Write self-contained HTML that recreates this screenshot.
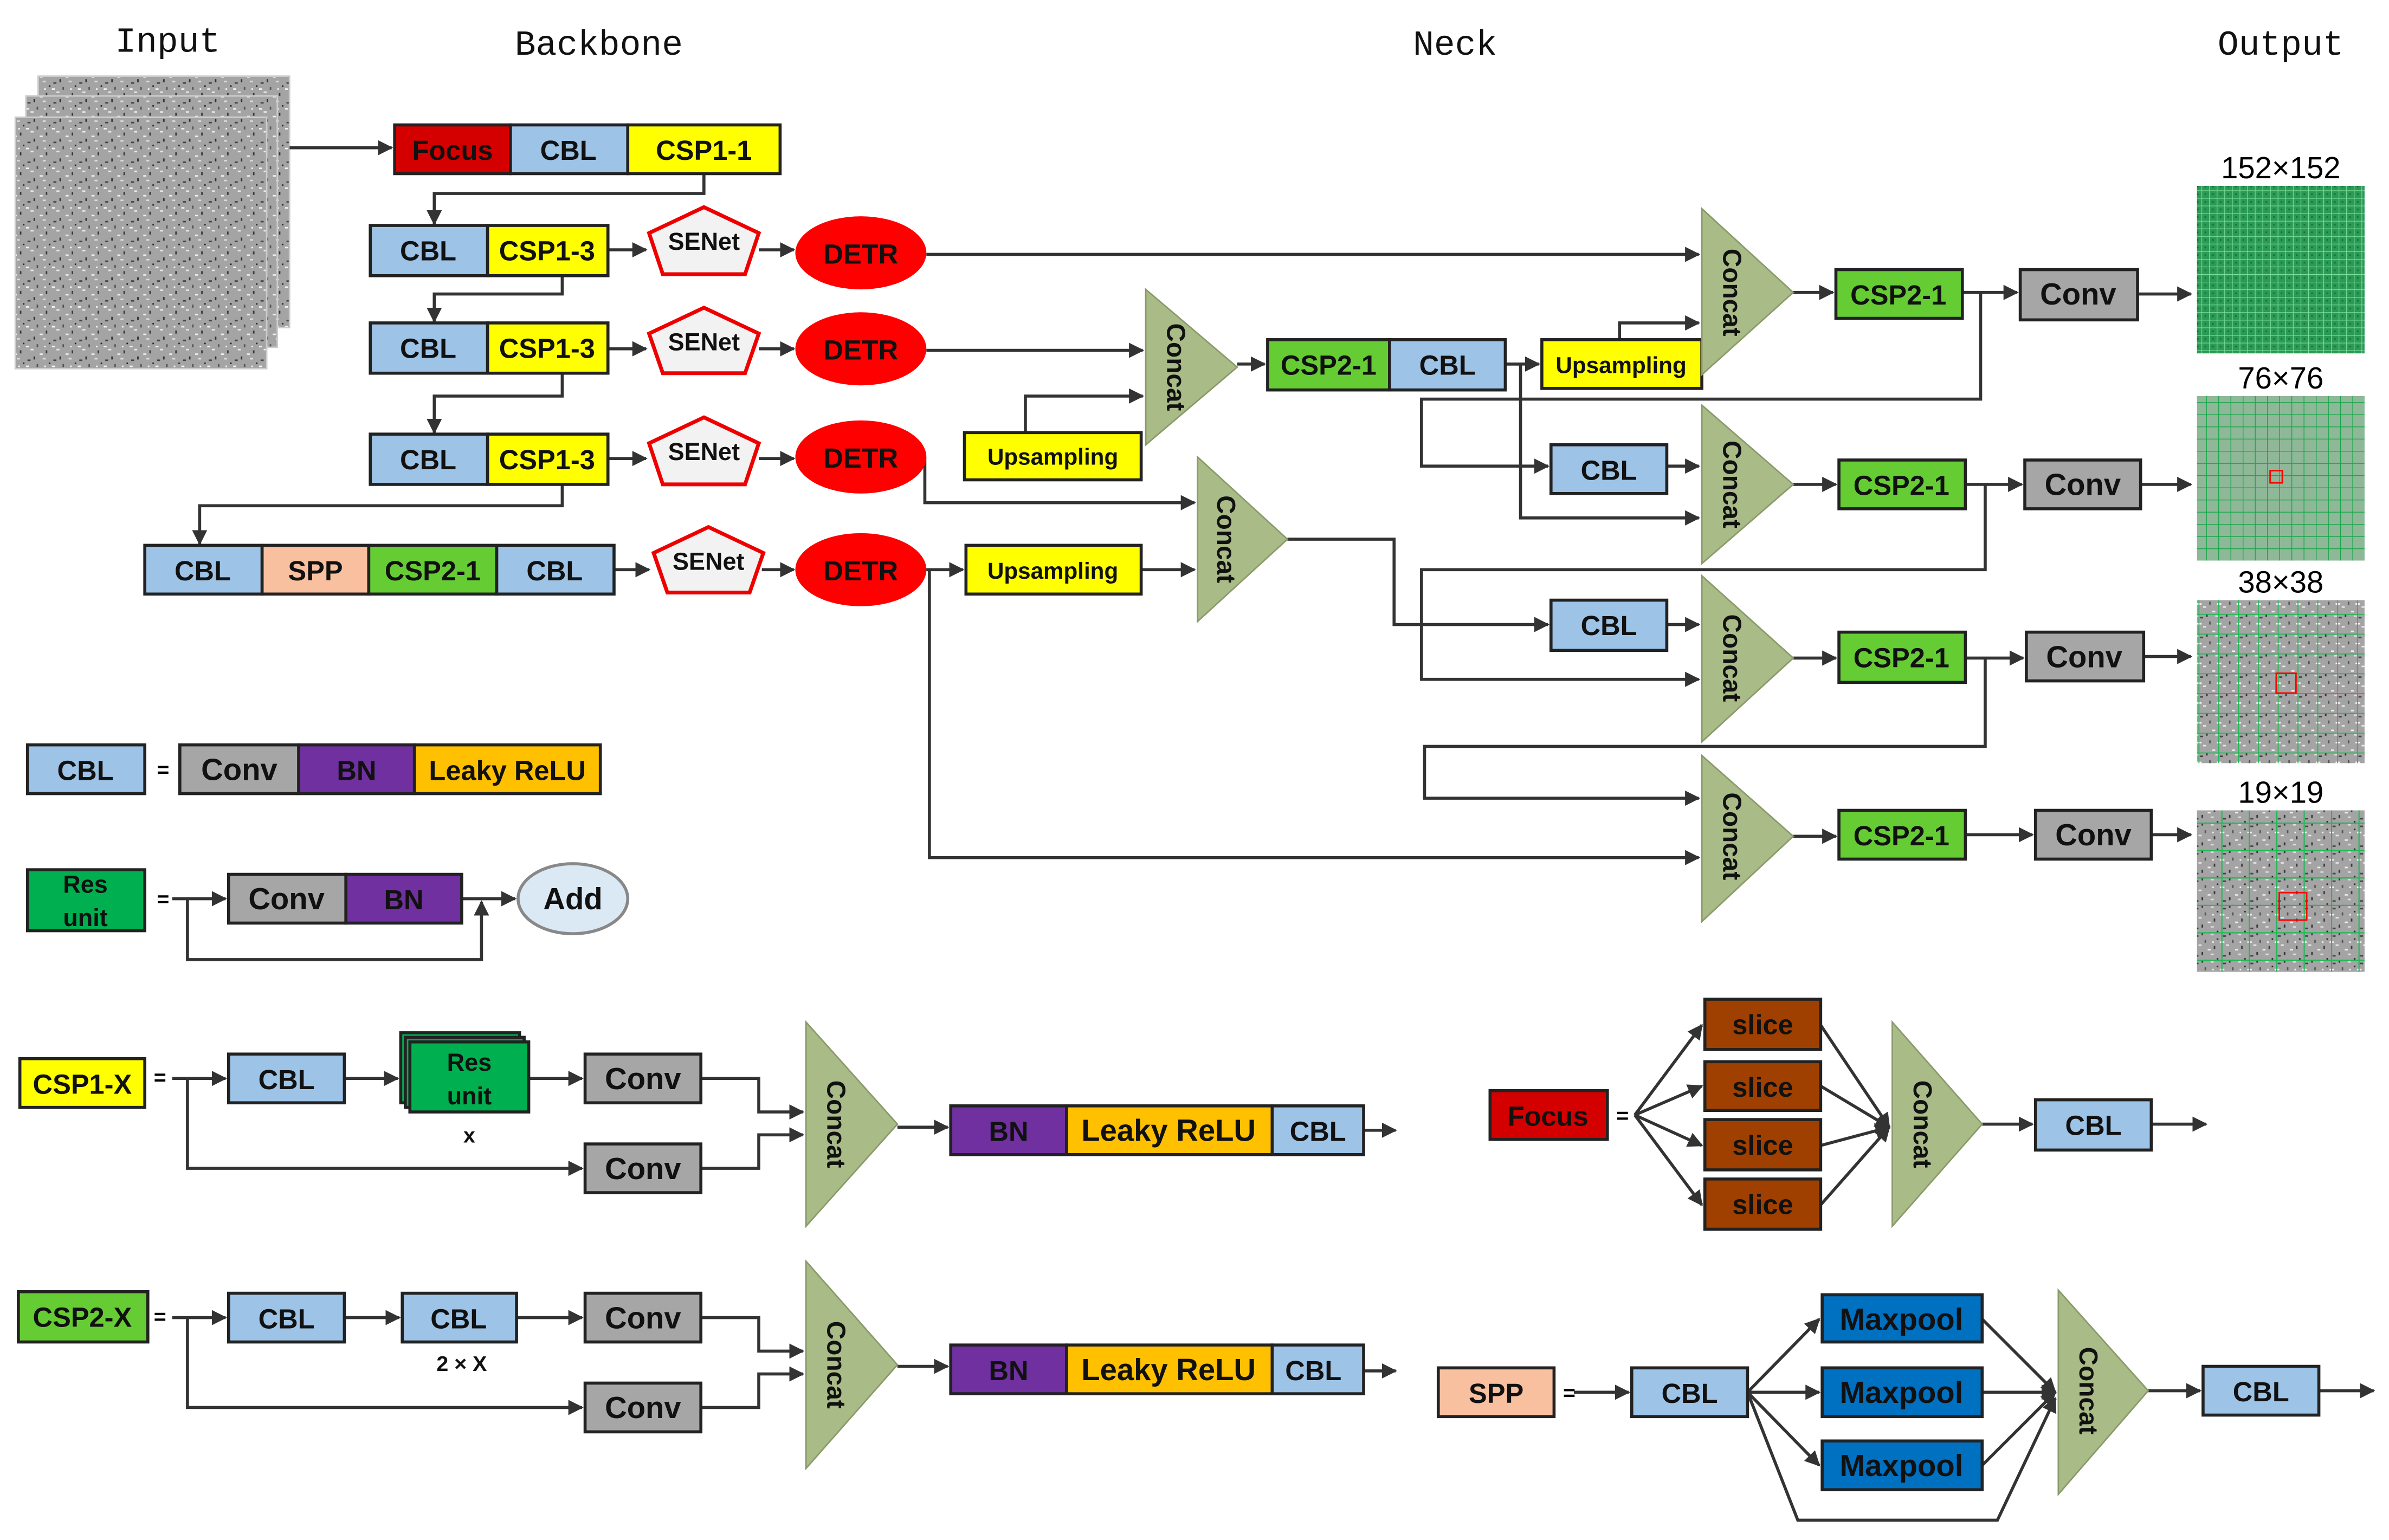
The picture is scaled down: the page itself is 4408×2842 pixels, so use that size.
<!DOCTYPE html>
<html><head><meta charset="utf-8"><style>
html,body{margin:0;padding:0;background:#fff;}
svg{display:block}
text{font-family:"Liberation Sans",sans-serif;font-weight:bold;}
</style></head><body>
<svg width="4408" height="2842" viewBox="0 0 1568 1011" xmlns="http://www.w3.org/2000/svg">
<defs>
<marker id="a" markerWidth="10" markerHeight="10" refX="9" refY="5" orient="auto" markerUnits="userSpaceOnUse"><path d="M0,0 L10,5 L0,10 z" fill="#333"/></marker>
<pattern id="noise" width="17" height="13" patternUnits="userSpaceOnUse">
<rect width="17" height="13" fill="#a4a4a4"/><rect x="1" y="2" width="2" height="1" fill="#444"/><rect x="7" y="5" width="1" height="2" fill="#555"/><rect x="3" y="8" width="2" height="1" fill="#e8e8e8"/><rect x="11" y="1" width="2" height="1" fill="#ddd"/><rect x="5" y="0" width="1" height="2" fill="#333"/><rect x="0" y="6" width="2" height="1" fill="#f4f4f4"/><rect x="13" y="9" width="1" height="2" fill="#3a3a3a"/><rect x="9" y="11" width="2" height="1" fill="#eee"/><rect x="15" y="4" width="1" height="1" fill="#222"/><rect x="12" y="6" width="1" height="1" fill="#fafafa"/></pattern>
<pattern id="g1" width="5" height="5" patternUnits="userSpaceOnUse"><rect width="5" height="5" fill="#2a9a55"/><path d="M0,0H5M0,0V5" stroke="#7fe0a0" stroke-width="0.8"/><rect x="2" y="2" width="1" height="1" fill="#1a6a3a"/></pattern>
<pattern id="g2" width="8" height="8" patternUnits="userSpaceOnUse"><rect width="8" height="8" fill="#8fb898"/><path d="M0,0H8M0,0V8" stroke="#17a84a" stroke-width="1"/></pattern>
<pattern id="g3" width="13" height="13" patternUnits="userSpaceOnUse"><rect width="13" height="13" fill="url(#noise)"/><path d="M0,0H13M0,0V13" stroke="#1db954" stroke-width="1.2"/></pattern>
<pattern id="g4" width="18" height="18" patternUnits="userSpaceOnUse"><rect width="18" height="18" fill="url(#noise)"/><path d="M0,0H18M0,0V18" stroke="#1db954" stroke-width="1.5"/></pattern>
</defs>
<g font-size="23" text-anchor="middle" fill="#111">
<text x="110" y="34" style="font-family:'Liberation Mono';font-weight:normal">Input</text>
<text x="393" y="36" style="font-family:'Liberation Mono';font-weight:normal">Backbone</text>
<text x="955" y="36" style="font-family:'Liberation Mono';font-weight:normal">Neck</text>
<text x="1497" y="36" style="font-family:'Liberation Mono';font-weight:normal">Output</text>
</g>
<rect x="25" y="50" width="165" height="165" fill="url(#noise)" stroke="#ccc"/>
<rect x="17" y="63" width="165" height="165" fill="url(#noise)" stroke="#ccc"/>
<rect x="10" y="77" width="165" height="165" fill="url(#noise)" stroke="#ccc"/>
<rect x="1442" y="122" width="110" height="110" fill="url(#g1)"/>
<rect x="1442" y="260" width="110" height="108" fill="url(#g2)"/><rect x="1490" y="309" width="8" height="8" fill="none" stroke="red"/>
<rect x="1442" y="394" width="110" height="107" fill="url(#g3)"/><rect x="1494" y="442" width="13" height="13" fill="none" stroke="red"/>
<rect x="1442" y="532" width="110" height="106" fill="url(#g4)"/><rect x="1496" y="586" width="18" height="18" fill="none" stroke="red"/>
<g font-size="20" text-anchor="middle">
<text x="1497" y="117" style="font-weight:normal">152×152</text>
<text x="1497" y="255" style="font-weight:normal">76×76</text>
<text x="1497" y="389" style="font-weight:normal">38×38</text>
<text x="1497" y="527" style="font-weight:normal">19×19</text>
</g>

<g stroke="#333" stroke-width="2" fill="none" marker-end="url(#a)">
<path d="M190,97H257"/>
<path d="M462,114V127H285V147"/>
<path d="M369,181V193H285V211"/>
<path d="M369,245V260H285V284"/>
<path d="M369,318V332H131V357"/>
<path d="M399,164H424"/><path d="M399,229H424"/><path d="M399,301H424"/><path d="M403,374H426"/>
<path d="M498,164H521"/><path d="M498,229H521"/><path d="M498,301H521"/><path d="M500,374H521"/>
<path d="M608,167H1115"/>
<path d="M608,230H750"/>
<path d="M673,284V260H750"/>
<path d="M607,300V330H784"/>
<path d="M608,374H632"/>
<path d="M749,374H784"/>
<path d="M608,374H610V563H1115"/>
<path d="M812,239H830"/>
<path d="M988,239H1010"/>
<path d="M1063,223V212H1115"/>
<path d="M988,239H998V340H1115"/>
<path d="M1300,192V262H933V306H1016"/>
<path d="M845,354H915V410H1016"/>
<path d="M1094,306H1115"/><path d="M1094,410H1115"/>
<path d="M1303,318V374H933V446H1115"/>
<path d="M1303,432V490H935V524H1115"/>
<path d="M1177,192H1203"/><path d="M1288,192H1324"/><path d="M1403,193H1438"/>
<path d="M1177,318H1205"/><path d="M1290,318H1327"/><path d="M1405,318H1438"/>
<path d="M1177,432H1205"/><path d="M1290,432H1328"/><path d="M1407,431H1438"/>
<path d="M1177,549H1205"/><path d="M1290,548H1334"/><path d="M1412,548H1438"/>
<path d="M113,590H148"/><path d="M303,590H338"/><path d="M123,590V630H316V592"/>
<path d="M113,708H148"/><path d="M226,708H261"/><path d="M347,708H382"/><path d="M123,708V767H382"/>
<path d="M460,708H498V730H527"/><path d="M460,767H498V745H527"/><path d="M589,740H622"/><path d="M895,742H916"/>
<path d="M113,865H148"/><path d="M226,865H262"/><path d="M339,865H382"/><path d="M123,865V924H382"/>
<path d="M460,865H498V887H527"/><path d="M460,924H498V902H527"/><path d="M589,897H622"/><path d="M895,900H916"/>
<path d="M1073,732L1117,673"/><path d="M1073,732L1117,713"/><path d="M1073,732L1117,752"/><path d="M1073,732L1117,791"/>
<path d="M1195,673L1240,740"/><path d="M1195,713L1240,740"/><path d="M1195,752L1240,740"/><path d="M1195,791L1240,740"/>
<path d="M1301,738H1334"/><path d="M1412,738H1448"/>
<path d="M1033,914H1069"/>
<path d="M1147,914L1194,866"/><path d="M1147,914H1194"/><path d="M1147,914L1194,962"/>
<path d="M1301,866L1349,914"/><path d="M1301,914H1349"/><path d="M1301,962L1349,914"/>
<path d="M1147,914L1180,998H1311L1349,918"/>
<path d="M1410,913H1444"/>
<path d="M1522,913H1558"/>
</g>
<g font-size="14" text-anchor="middle"><text x="107" y="510">=</text><text x="107" y="595">=</text><text x="105" y="712">=</text><text x="105" y="869">=</text><text x="1065" y="737">=</text><text x="1030" y="919">=</text></g>

<g stroke="#222" stroke-width="2" font-size="18" text-anchor="middle">
<rect x="259" y="82" width="76" height="32" fill="#d40000"/>
<rect x="335" y="82" width="77" height="32" fill="#9dc3e6"/>
<rect x="412" y="82" width="100" height="32" fill="#ffff00"/>
<rect x="243" y="148" width="77" height="33" fill="#9dc3e6"/><rect x="320" y="148" width="79" height="33" fill="#ffff00"/>
<rect x="243" y="212" width="77" height="33" fill="#9dc3e6"/><rect x="320" y="212" width="79" height="33" fill="#ffff00"/>
<rect x="243" y="285" width="77" height="33" fill="#9dc3e6"/><rect x="320" y="285" width="79" height="33" fill="#ffff00"/>
<rect x="95" y="358" width="77" height="32" fill="#9dc3e6"/><rect x="172" y="358" width="70" height="32" fill="#f9c09f"/>
<rect x="242" y="358" width="84" height="32" fill="#66cc33"/><rect x="326" y="358" width="77" height="32" fill="#9dc3e6"/>
<rect x="633" y="284" width="116" height="31" fill="#ffff00"/><rect x="634" y="358" width="115" height="32" fill="#ffff00"/>
<rect x="832" y="223" width="80" height="33" fill="#66cc33"/><rect x="912" y="223" width="76" height="33" fill="#9dc3e6"/>
<rect x="1012" y="223" width="105" height="32" fill="#ffff00"/>
<rect x="1018" y="292" width="76" height="32" fill="#9dc3e6"/><rect x="1018" y="394" width="76" height="33" fill="#9dc3e6"/>
<rect x="1205" y="177" width="83" height="32" fill="#66cc33"/><rect x="1326" y="177" width="77" height="33" fill="#a6a6a6"/>
<rect x="1207" y="302" width="83" height="32" fill="#66cc33"/><rect x="1329" y="302" width="76" height="32" fill="#a6a6a6"/>
<rect x="1207" y="415" width="83" height="33" fill="#66cc33"/><rect x="1330" y="415" width="77" height="32" fill="#a6a6a6"/>
<rect x="1207" y="532" width="83" height="32" fill="#66cc33"/><rect x="1336" y="532" width="76" height="32" fill="#a6a6a6"/>
<rect x="18" y="489" width="77" height="32" fill="#9dc3e6"/>
<rect x="118" y="489" width="78" height="32" fill="#a6a6a6"/><rect x="196" y="489" width="76" height="32" fill="#7030a0"/><rect x="272" y="489" width="122" height="32" fill="#ffc000"/>
<rect x="18" y="571" width="77" height="40" fill="#00b050"/>
<rect x="150" y="574" width="77" height="32" fill="#a6a6a6"/><rect x="227" y="574" width="76" height="32" fill="#7030a0"/>
<ellipse cx="376" cy="590" rx="36" ry="23" fill="#dbe9f5" stroke="#888"/>
<rect x="13" y="695" width="82" height="32" fill="#ffff00"/>
<rect x="150" y="692" width="76" height="32" fill="#9dc3e6"/>
<rect x="263" y="678" width="78" height="46" fill="#00b050"/><rect x="266" y="681" width="78" height="46" fill="#00b050"/><rect x="269" y="684" width="78" height="46" fill="#00b050"/>
<rect x="384" y="692" width="76" height="32" fill="#a6a6a6"/><rect x="384" y="751" width="76" height="32" fill="#a6a6a6"/>
<rect x="624" y="726" width="76" height="32" fill="#7030a0"/><rect x="700" y="726" width="135" height="32" fill="#ffc000"/><rect x="835" y="726" width="60" height="32" fill="#9dc3e6"/>
<rect x="12" y="848" width="85" height="33" fill="#66cc33"/>
<rect x="150" y="849" width="76" height="32" fill="#9dc3e6"/><rect x="264" y="849" width="75" height="32" fill="#9dc3e6"/>
<rect x="384" y="849" width="76" height="32" fill="#a6a6a6"/><rect x="384" y="908" width="76" height="32" fill="#a6a6a6"/>
<rect x="624" y="883" width="76" height="32" fill="#7030a0"/><rect x="700" y="883" width="135" height="32" fill="#ffc000"/><rect x="835" y="883" width="60" height="32" fill="#9dc3e6"/>
<rect x="978" y="716" width="77" height="32" fill="#d40000"/>
<rect x="1119" y="656" width="76" height="33" fill="#a04000"/><rect x="1119" y="697" width="76" height="32" fill="#a04000"/>
<rect x="1119" y="735" width="76" height="33" fill="#a04000"/><rect x="1119" y="774" width="76" height="33" fill="#a04000"/>
<rect x="1336" y="722" width="76" height="33" fill="#9dc3e6"/>
<rect x="944" y="898" width="76" height="32" fill="#f9c09f"/><rect x="1071" y="898" width="76" height="32" fill="#9dc3e6"/>
<rect x="1196" y="850" width="105" height="31" fill="#0070c0"/><rect x="1196" y="898" width="105" height="32" fill="#0070c0"/><rect x="1196" y="946" width="105" height="32" fill="#0070c0"/>
<rect x="1446" y="897" width="76" height="32" fill="#9dc3e6"/>
</g>
<g stroke="#e00" stroke-width="2.5" fill="#f2f2f2">
<polygon points="462,136 498,153 489,180 435,180 426,153"/>
<polygon points="462,202 498,219 489,245 435,245 426,219"/>
<polygon points="462,274 498,291 489,318 435,318 426,291"/>
<polygon points="465,346 501,363 492,389 438,389 429,363"/>
</g>
<g fill="#ff0000">
<ellipse cx="565" cy="166" rx="43" ry="24"/><ellipse cx="565" cy="229" rx="43" ry="24"/>
<ellipse cx="565" cy="300" rx="43" ry="24"/><ellipse cx="565" cy="374" rx="43" ry="24"/>
</g>
<g fill="#a9bb86" stroke="#8a9a6a">
<polygon points="752,190 752,292 812,241"/>
<polygon points="786,300 786,408 845,354"/>
<polygon points="1117,137 1117,246 1177,192"/>
<polygon points="1117,266 1117,370 1177,318"/>
<polygon points="1117,378 1117,487 1177,432"/>
<polygon points="1117,496 1117,605 1177,549"/>
<polygon points="529,671 529,805 589,738"/>
<polygon points="529,828 529,964 589,896"/>
<polygon points="1242,671 1242,805 1301,738"/>
<polygon points="1351,847 1351,981 1410,913"/>
</g>
<g font-size="17" text-anchor="middle" fill="#111">
<text transform="translate(766,241) rotate(90)">Concat</text>
<text transform="translate(799,354) rotate(90)">Concat</text>
<text transform="translate(1131,192) rotate(90)">Concat</text>
<text transform="translate(1131,318) rotate(90)">Concat</text>
<text transform="translate(1131,432) rotate(90)">Concat</text>
<text transform="translate(1131,549) rotate(90)">Concat</text>
<text transform="translate(543,738) rotate(90)">Concat</text>
<text transform="translate(543,896) rotate(90)">Concat</text>
<text transform="translate(1256,738) rotate(90)">Concat</text>
<text transform="translate(1365,913) rotate(90)">Concat</text>
</g>
<g font-size="18" text-anchor="middle" fill="#111">
<text x="297" y="105">Focus</text><text x="373" y="105">CBL</text><text x="462" y="105">CSP1-1</text>
<text x="281" y="171">CBL</text><text x="359" y="171">CSP1-3</text>
<text x="281" y="235">CBL</text><text x="359" y="235">CSP1-3</text>
<text x="281" y="308">CBL</text><text x="359" y="308">CSP1-3</text>
<text x="133" y="381">CBL</text><text x="207" y="381">SPP</text><text x="284" y="381">CSP2-1</text><text x="364" y="381">CBL</text>
<text x="462" y="164" font-size="16">SENet</text><text x="462" y="230" font-size="16">SENet</text>
<text x="462" y="302" font-size="16">SENet</text><text x="465" y="374" font-size="16">SENet</text>
<text x="565" y="173">DETR</text><text x="565" y="236">DETR</text><text x="565" y="307">DETR</text><text x="565" y="381">DETR</text>
<text x="691" y="305" font-size="15">Upsampling</text><text x="691" y="380" font-size="15">Upsampling</text>
<text x="872" y="246">CSP2-1</text><text x="950" y="246">CBL</text><text x="1064" y="245" font-size="15">Upsampling</text>
<text x="1056" y="315">CBL</text><text x="1056" y="417">CBL</text>
<text x="1246" y="200">CSP2-1</text><text x="1364" y="200" font-size="20">Conv</text>
<text x="1248" y="325">CSP2-1</text><text x="1367" y="325" font-size="20">Conv</text>
<text x="1248" y="438">CSP2-1</text><text x="1368" y="438" font-size="20">Conv</text>
<text x="1248" y="555">CSP2-1</text><text x="1374" y="555" font-size="20">Conv</text>
<text x="56" y="512">CBL</text><text x="157" y="512" font-size="20">Conv</text><text x="234" y="512">BN</text><text x="333" y="512">Leaky ReLU</text>
<text x="56" y="586" font-size="16">Res</text><text x="56" y="608" font-size="16">unit</text>
<text x="188" y="597" font-size="20">Conv</text><text x="265" y="597">BN</text><text x="376" y="597" font-size="20">Add</text>
<text x="54" y="718">CSP1-X</text><text x="188" y="715">CBL</text>
<text x="308" y="703" font-size="16">Res</text><text x="308" y="725" font-size="16">unit</text><text x="308" y="750" font-size="14">x</text>
<text x="422" y="715" font-size="20">Conv</text><text x="422" y="774" font-size="20">Conv</text>
<text x="662" y="749">BN</text><text x="767" y="749" font-size="20">Leaky ReLU</text><text x="865" y="749">CBL</text>
<text x="54" y="871">CSP2-X</text><text x="188" y="872">CBL</text><text x="301" y="872">CBL</text><text x="303" y="900" font-size="14">2 × X</text>
<text x="422" y="872" font-size="20">Conv</text><text x="422" y="931" font-size="20">Conv</text>
<text x="662" y="906">BN</text><text x="767" y="906" font-size="20">Leaky ReLU</text><text x="862" y="906">CBL</text>
<text x="1016" y="739">Focus</text>
<text x="1157" y="679">slice</text><text x="1157" y="720">slice</text><text x="1157" y="758">slice</text><text x="1157" y="797">slice</text>
<text x="1374" y="745">CBL</text>
<text x="982" y="921">SPP</text><text x="1109" y="921">CBL</text>
<text x="1248" y="873" font-size="20">Maxpool</text><text x="1248" y="921" font-size="20">Maxpool</text><text x="1248" y="969" font-size="20">Maxpool</text>
<text x="1484" y="920">CBL</text>
</g>
</svg>
</body></html>
